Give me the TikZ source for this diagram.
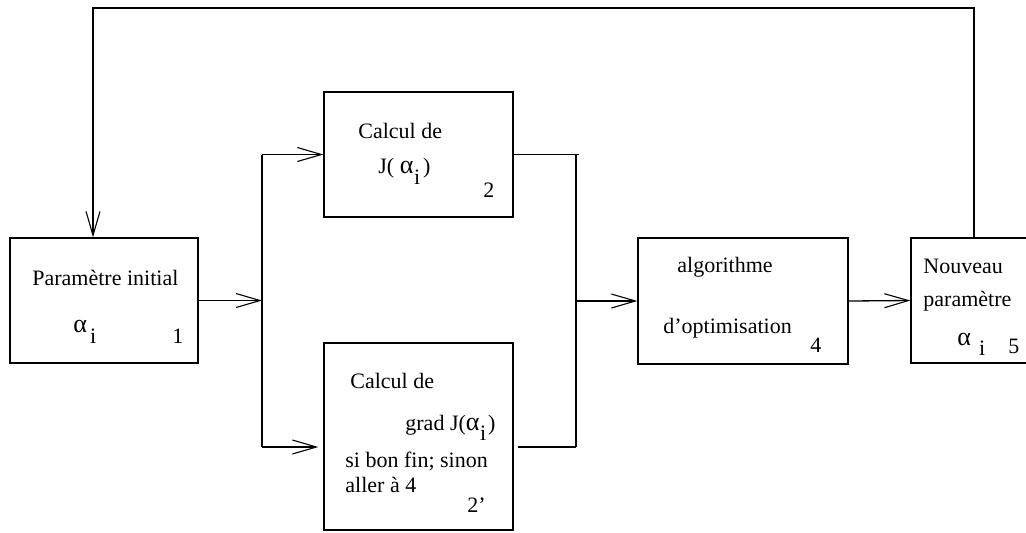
\documentclass[tikz,border=0pt]{standalone}
\usepackage{fontspec}
\setmainfont{Liberation Serif}
\usetikzlibrary{arrows.meta}
\tikzset{
  blk/.style={draw,line width=0.65pt,inner sep=0pt},
  txt/.style={anchor=base west,inner sep=0pt,font=\fontsize{11}{13}\selectfont},
  flw/.style={line width=0.65pt},
  >={Straight Barb[length=12pt,width=7pt,line width=0.55pt]}
}
\newcommand{\alf}{{\fontsize{13}{13}\selectfont α}}
\newcommand{\asub}[2]{\alf\kern#1\raisebox{-#2}{i}}

\begin{document}
\begin{tikzpicture}[x=0.5pt,y=-0.5pt]
  \useasboundingbox (0,0) rectangle (1026,532);
  % boxes
  \node[blk,minimum width=94pt,minimum height=62.5pt] (init) at (104,300.5) {};
  \node[blk,minimum width=94.5pt,minimum height=62.5pt] (cout) at (418.5,154.5) {};
  \node[blk,minimum width=94.5pt,minimum height=93.5pt] (grad) at (418.5,436.5) {};
  \node[blk,minimum width=105pt,minimum height=63pt] (optim) at (743,301) {};
  \node[blk,minimum width=63pt,minimum height=62.5pt] (nouv) at (974,300.5) {};
  % texts
  \node[txt] (t1) at (32,285) {Paramètre initial};
  \node[txt] (a1) at (73,332) {\asub{1.5pt}{5.5pt}};
  \node[txt] (n1) at (172,343) {1};
  \node[txt] (t2) at (358,138) {Calcul de};
  \node[txt] (a2) at (378,173) {J( \asub{0.3pt}{5.5pt}\kern1.5pt)};
  \node[txt] (n2) at (483,197) {2};
  \node[txt] (t3) at (350,388) {Calcul de};
  \node[txt] (a3) at (405,430) {grad J(\asub{0.3pt}{5pt}\kern1pt)};
  \node[txt] (s3) at (345,467) {si bon fin; sinon};
  \node[txt] (r3) at (345,492) {aller à 4};
  \node[txt] (n3) at (467,512) {2’};
  \node[txt] (t4) at (677,272) {algorithme};
  \node[txt] (u4) at (663,333) {d’optimisation};
  \node[txt] (n4) at (810,352) {4};
  \node[txt] (t5) at (923,273) {Nouveau};
  \node[txt] (u5) at (923,306) {paramètre};
  \node[txt] (a5) at (957,345) {\asub{4pt}{5pt}};
  \node[txt] (n5) at (1008,353) {5};
  % junctions
  \coordinate (jLT) at (262,154.5);
  \coordinate (jLB) at (262,447);
  \coordinate (jRT) at (576,154.5);
  \coordinate (jRB) at (576,447);
  \coordinate (jRM) at (576,301);
  \coordinate (fbR) at (974,8);
  \coordinate (fbL) at (93,8);
  % connectors
  \draw[flw,->] (init.east) -- (init.east -| jLT);
  \draw[flw] (jLT) -- (jLB);
  \draw[flw,->] (jLT) -- (cout.west);
  \draw[flw,->] (jLB) -- ([xshift=-2.5pt]jLB -| grad.west);
  \draw[flw] (cout.east) -- ([xshift=1.5pt]jRT);
  \draw[flw] (jRT) -- (jRB);
  \draw[flw] ([xshift=2pt]grad.east |- jRB) -- (jRB);
  \draw[flw,->] (jRM) -- (optim.west);
  \draw[flw,->] (optim.east) -- (nouv.west);
  \draw[flw,->] (nouv.north) -- (fbR) -- (fbL) -- (fbL |- init.north);
\end{tikzpicture}
\end{document}
